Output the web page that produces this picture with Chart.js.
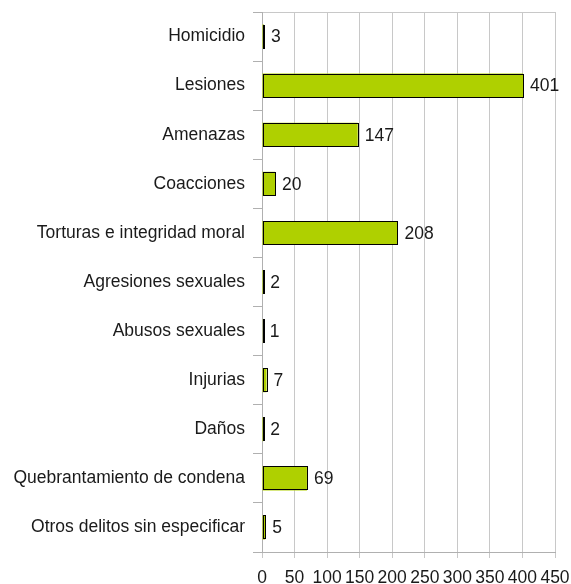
<!DOCTYPE html>
<html><head><meta charset="utf-8">
<script src="https://cdn.jsdelivr.net/npm/chart.js@4"></script>
<style>html,body{margin:0;padding:0;background:#fff}#wrap{width:571px;height:584px}</style>
</head><body><div id="wrap"><canvas id="c"></canvas></div>
<script>
const categories = ["Homicidio","Lesiones","Amenazas","Coacciones","Torturas e integridad moral","Agresiones sexuales","Abusos sexuales","Injurias","Daños","Quebrantamiento de condena","Otros delitos sin especificar"];
const values = [3,401,147,20,208,2,1,7,2,69,5];
const xTicks = [0,50,100,150,200,250,300,350,400,450];

const FONT = "'Liberation Sans', Arial, sans-serif";
const FS = 17.5;
const barOutline = {
  id: 'barOutline',
  afterDatasetsDraw(chart) {
    const ctx = chart.ctx;
    const meta = chart.getDatasetMeta(0);
    ctx.save();
    ctx.strokeStyle = '#000';
    ctx.lineWidth = 1;
    meta.data.forEach((bar) => {
      const l = Math.round(Math.min(bar.base, bar.x)) + 0.5;
      const r = Math.round(Math.max(bar.base, bar.x)) + 0.5;
      const t = Math.round(bar.y - bar.height / 2) + 0.5;
      const b = Math.round(bar.y + bar.height / 2) - 0.5;
      ctx.strokeRect(l, t, Math.max(r - l, 1), b - t);
    });
    ctx.font = FS + "px " + FONT;
    ctx.fillStyle = "#1a1a1a";
    ctx.textAlign = "left";
    ctx.textBaseline = "middle";
    meta.data.forEach((bar, i) => {
      ctx.fillText(String(values[i]), Math.max(bar.x, bar.base) + 7, bar.y + 1);
    });
    ctx.restore();
  }
};

new Chart(document.getElementById('c'), {
  type: 'bar',
  data: {
    labels: categories,
    datasets: [{
      data: values,
      backgroundColor: '#afd000',
      borderWidth: 0,
      barPercentage: 0.49,
      categoryPercentage: 1.0
    }]
  },
  options: {
    indexAxis: 'y',
    responsive: true,
    maintainAspectRatio: false,
    animation: false,
    layout: { padding: { top: 12, right: 16, left: 0, bottom: 0 } },
    plugins: { legend: { display: false }, tooltip: { enabled: false } },
    scales: {
      x: {
        min: 0, max: 450,
        afterBuildTicks(scale) { scale.ticks = xTicks.map(v => ({ value: v })); },
        afterFit(scale) { scale.height = 32; scale.paddingLeft = 0; scale.paddingRight = 0; },
        grid: { color: '#c8c8c8', lineWidth: 1, tickLength: 6, tickColor: '#c8c8c8' },
        border: { color: '#b0b0b0' },
        ticks: { font: { family: FONT, size: FS }, color: '#1a1a1a', padding: 10, maxRotation: 0, autoSkip: false }
      },
      y: {
        afterFit(scale) { scale.width = 262; scale.paddingTop = 0; scale.paddingBottom = 0; },
        grid: {
          offset: true,
          drawOnChartArea: true,
          color: (c) => c.index === 0 ? '#c8c8c8' : 'rgba(0,0,0,0)',
          tickColor: '#b0b0b0',
          tickLength: 9
        },
        border: { color: '#b0b0b0' },
        ticks: { font: { family: FONT, size: FS }, color: '#1a1a1a', padding: 8, autoSkip: false }
      }
    }
  },
  plugins: [barOutline]
});
</script></body></html>
